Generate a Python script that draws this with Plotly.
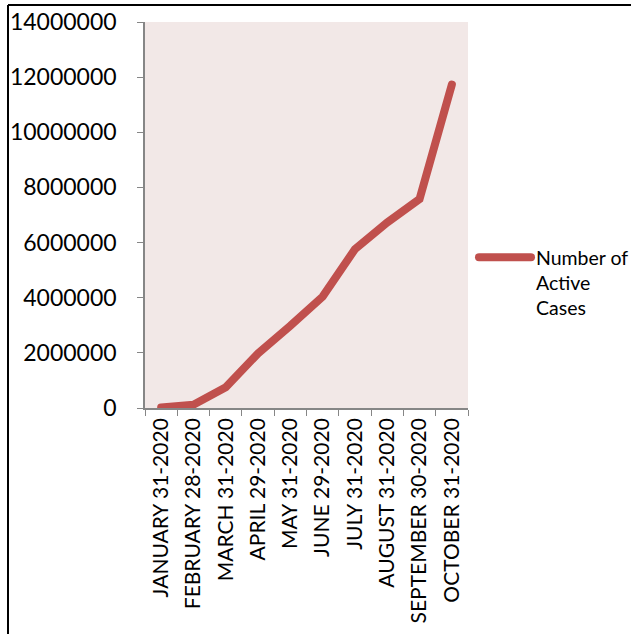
import plotly.graph_objects as go

# Month-end dates and the active case counts on each
dates = [
    "JANUARY 31-2020", "FEBRUARY 28-2020", "MARCH 31-2020", "APRIL 29-2020",
    "MAY 31-2020", "JUNE 29-2020", "JULY 31-2020", "AUGUST 31-2020",
    "SEPTEMBER 30-2020", "OCTOBER 31-2020",
]
active_cases = [
    20000, 120000, 750000, 1980000, 2980000,
    4040000, 5760000, 6730000, 7580000, 11730000,
]
y_ticks = list(range(0, 14000001, 2000000))

W, H = 631, 634
L, R, T, B = 145, 163, 22, 226
pw, ph = W - L - R, H - T - B

def px_x(x):
    return (x - L) / pw

def px_y(y):
    return (H - B - y) / ph

FONT = "Lato, 'Open Sans', sans-serif"
RED = "#C0504D"
AXIS = "#868686"

fig = go.Figure()
fig.add_trace(go.Scatter(
    x=dates, y=active_cases, mode="lines",
    name="Number of<br>Active<br>Cases",
    line=dict(color=RED, width=8),
))

fig.update_layout(
    width=W, height=H,
    margin=dict(l=L, r=R, t=T, b=B, autoexpand=False),
    paper_bgcolor="white",
    plot_bgcolor="#F2E8E7",
    font=dict(family=FONT, color="black", size=18),
    showlegend=True,
    legend=dict(
        x=px_x(474), y=px_y(238), xanchor="left", yanchor="top",
        bgcolor="rgba(0,0,0,0)", font=dict(size=19.5, family=FONT),
        itemwidth=52, valign="top", tracegroupgap=0,
    ),
    xaxis=dict(
        type="category", range=[-0.5, 9.5],
        showgrid=False, zeroline=False,
        showline=True, linecolor=AXIS, linewidth=1.5,
        ticks="outside", tickson="boundaries", ticklen=6, tickcolor=AXIS,
        tickangle=-90, tickfont=dict(size=21, family=FONT),
    ),
    yaxis=dict(
        range=[0, 14000000], tickvals=y_ticks, tickformat="d",
        showgrid=False, zeroline=False,
        showline=True, linecolor=AXIS, linewidth=1.5,
        ticks="outside", ticklen=6, tickcolor=AXIS,
        ticklabelstandoff=16,
        tickfont=dict(size=23, family=FONT),
    ),
    shapes=[
        dict(type="line", xref="paper", yref="paper",
             x0=px_x(8), x1=px_x(W + 5), y0=px_y(5), y1=px_y(5),
             line=dict(color="black", width=2)),
        dict(type="line", xref="paper", yref="paper",
             x0=px_x(8), x1=px_x(8), y0=px_y(5), y1=px_y(H + 5),
             line=dict(color="black", width=2)),
    ],
)

# page without margins or scrollbars; rounded ends on the series line
page_js = """
document.body.style.margin = '0';
document.body.style.overflow = 'hidden';
document.querySelectorAll('path.js-line').forEach(function (p) {
  p.style.strokeLinecap = 'round';
});
"""

fig.write_html("out.html", post_script=page_js)
